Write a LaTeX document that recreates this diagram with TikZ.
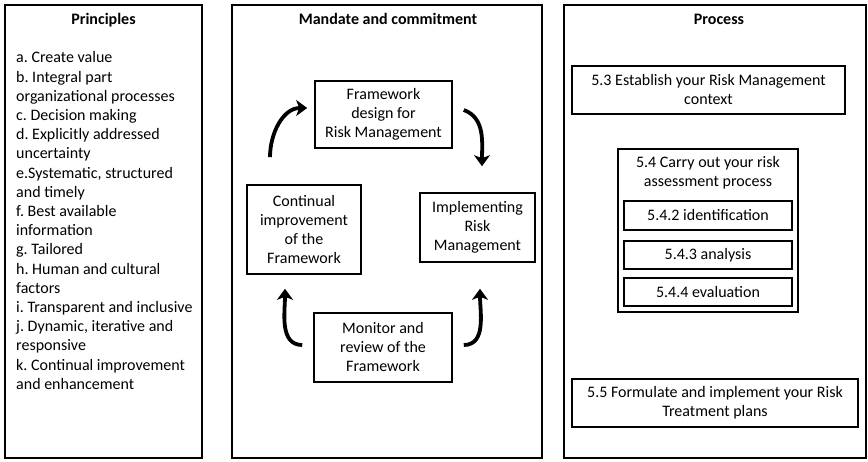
\documentclass[tikz,border=0pt]{standalone}
\usepackage{fontspec}
\setmainfont{Carlito}
\usetikzlibrary{arrows.meta}
\begin{document}
\begin{tikzpicture}[x=1pt,y=1pt,
 panel/.style={draw,line width=1.4pt,inner sep=0pt,minimum width=#1,minimum height=453pt},
 box/.style={draw,line width=1.6pt,align=center,inner sep=0pt,font=\fontsize{16}{19}\selectfont\frenchspacing},
 ttl/.style={font=\bfseries\fontsize{16}{19}\selectfont,anchor=base},
 txt/.style={font=\fontsize{16}{19.2}\selectfont\frenchspacing,align=left,inner sep=0pt,anchor=north west},
 flow/.style={line width=3.8pt,-{Stealth[length=11pt,width=16pt,inset=3pt]}}
]
\useasboundingbox (0,0) rectangle (868,461);
% panels
\node[panel=197pt] (pl) at (103.5,229.5) {};
\node[panel=310pt] (pm) at (387,229.5) {};
\node[panel=302pt] (pr) at (715,229.5) {};
% titles
\node[ttl] (tl) at (103.5,436) {Principles};
\node[ttl] (tm) at (388,436) {Mandate and commitment};
\node[ttl] (tr) at (719,436) {Process};
% principles list
\node[txt] (plist) at (16,409.5) {a. Create value\\
b. Integral part\\
organizational processes\\
c. Decision making\\
d. Explicitly addressed\\
uncertainty\\
e.Systematic, structured\\
and timely\\
f. Best available\\
information\\
g. Tailored\\
h. Human and cultural\\
factors\\
i. Transparent and inclusive\\
j. Dynamic, iterative and\\
responsive\\
k. Continual improvement\\
and enhancement};
% cycle
\node[box,minimum width=137pt,minimum height=67pt] (frame) at (383.5,346.5) {Framework\\design for\\Risk Management};
\node[box,minimum width=114pt,minimum height=89pt] (cont) at (304,231.5) {Continual\\improvement\\of the\\Framework};
\node[box,minimum width=115pt,minimum height=69pt] (impl) at (477.5,233.5) {Implementing\\Risk\\Management};
\node[box,minimum width=138pt,minimum height=69pt] (mon) at (383,113.5) {Monitor and\\review of the\\Framework};
\draw[flow] ([xshift=-34pt,yshift=27pt]cont.north) to[out=90,in=180] ([xshift=-7pt,yshift=6.5pt]frame.west);
\draw[flow] ([xshift=11pt,yshift=4.5pt]frame.east) to[out=-20,in=90] ([xshift=4.5pt,yshift=26pt]impl.north);
\draw[flow] ([xshift=-11pt,yshift=2.5pt]mon.west) to[out=180,in=-90] ([xshift=-19pt,yshift=-14pt]cont.south);
\draw[flow] ([xshift=11pt,yshift=2.5pt]mon.east) to[out=0,in=-90] ([xshift=2.5pt,yshift=-26pt]impl.south);
% process
\node[box,minimum width=273pt,minimum height=48pt] (b53) at (708.5,371) {5.3 Establish your Risk Management\\context};
\node[box,minimum width=180pt,minimum height=163pt] (b54) at (708,230.5) {};
\node[box,draw=none] (b54t) at (708,288) {5.4 Carry out your risk\\assessment process};
\node[box,minimum width=168pt,minimum height=29pt] (s542) at (708,245.5) {5.4.2 identification};
\node[box,minimum width=168pt,minimum height=28pt] (s543) at (708,206) {5.4.3 analysis};
\node[box,minimum width=168pt,minimum height=28pt] (s544) at (708,169) {5.4.4 evaluation};
\node[box,minimum width=286pt,minimum height=48pt] (b55) at (715,58) {5.5 Formulate and implement your Risk\\Treatment plans};
\end{tikzpicture}
\end{document}
